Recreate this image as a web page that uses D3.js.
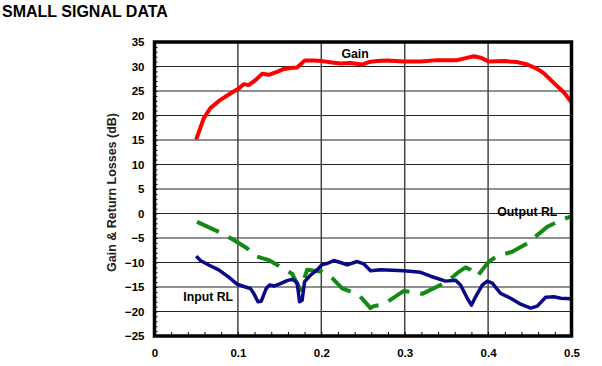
<!DOCTYPE html>
<html><head><meta charset="utf-8">
<script src="https://cdn.jsdelivr.net/npm/d3@7/dist/d3.min.js"></script>
<style>
html,body{margin:0;padding:0;background:#fff;}
svg{display:block;font-family:"Liberation Sans",Arial,sans-serif;}
</style></head>
<body>
<svg id="c" width="602" height="366"></svg>
<script>
const title = "SMALL SIGNAL DATA";
const yTitle = "Gain & Return Losses (dB)";
const xTicks = [0, 0.1, 0.2, 0.3, 0.4, 0.5];
const xTickLabels = ["0", "0.1", "0.2", "0.3", "0.4", "0.5"];
const yTicks = [35, 30, 25, 20, 15, 10, 5, 0, -5, -10, -15, -20, -25];
const seriesLabels = ["Gain", "Input RL", "Output RL"];

const gainF = [0.050,0.059,0.067,0.079,0.091,0.101,0.107,0.113,0.121,0.129,0.137,0.147,0.155,0.163,0.171,0.180,0.191,0.201,0.213,0.223,0.235,0.249,0.257,0.267,0.279,0.299,0.319,0.339,0.363,0.373,0.383,0.391,0.401,0.419,0.435,0.447,0.459,0.467,0.479,0.491,0.500];
const gainV = [15.1,19.4,21.5,23.2,24.5,25.5,26.4,26.2,27.2,28.5,28.3,28.9,29.5,29.7,29.8,31.2,31.2,31.1,30.8,30.6,30.7,30.4,30.9,31.1,31.2,31.0,31.0,31.3,31.3,31.7,32.1,31.8,31.0,31.1,30.9,30.4,29.5,28.6,26.6,24.7,22.7];

const inF = [0.050,0.055,0.065,0.077,0.089,0.099,0.107,0.115,0.119,0.124,0.128,0.134,0.138,0.143,0.151,0.159,0.166,0.171,0.174,0.177,0.180,0.187,0.195,0.201,0.207,0.215,0.223,0.231,0.243,0.251,0.259,0.271,0.299,0.319,0.331,0.349,0.361,0.367,0.375,0.380,0.385,0.393,0.399,0.405,0.415,0.427,0.439,0.451,0.459,0.469,0.479,0.487,0.500];
const inV = [-8.7,-9.6,-10.5,-11.5,-13.0,-14.4,-14.9,-15.3,-16.3,-18.0,-17.9,-15.3,-14.6,-14.8,-14.3,-13.7,-13.4,-14.2,-18.0,-17.7,-13.9,-12.6,-11.5,-10.4,-10.2,-9.6,-10.0,-10.5,-9.8,-10.3,-11.7,-11.5,-11.7,-12.0,-12.8,-13.8,-13.6,-14.6,-17.3,-18.7,-17.0,-14.6,-13.8,-14.2,-16.3,-17.3,-18.5,-19.3,-18.9,-17.1,-17.0,-17.3,-17.4];

const outF = [0.051,0.079,0.097,0.111,0.121,0.137,0.165,0.175,0.183,0.201,0.213,0.225,0.245,0.259,0.263,0.275,0.299,0.321,0.351,0.365,0.373,0.379,0.387,0.401,0.411,0.429,0.447,0.471,0.489,0.500];
const outV = [-1.7,-3.9,-5.6,-7.1,-8.7,-9.5,-12.3,-15.6,-11.5,-11.9,-13.2,-15.3,-16.6,-19.3,-18.9,-18.5,-15.8,-16.4,-13.9,-11.9,-11.0,-11.5,-12.8,-9.8,-8.7,-7.8,-6.1,-2.7,-1.2,-0.6];

const svg = d3.select("#c");
const L = 154.5, R = 571.5, T = 42, B = 336;
const x = d3.scaleLinear().domain([0, 0.5]).range([L, R]);
const y = d3.scaleLinear().domain([-25, 35]).range([B, T]);

svg.append("text").attr("x", 2).attr("y", 17).attr("font-size", 16).attr("font-weight", "bold").text(title);

// grid
const g = svg.append("g");
g.selectAll(".hg").data(yTicks.filter(d => d > -25 && d < 35)).join("line")
  .attr("x1", L).attr("x2", R).attr("y1", d => y(d)).attr("y2", d => y(d))
  .attr("stroke", "#222").attr("stroke-width", 1.2);
g.selectAll(".vg").data(xTicks.filter(d => d > 0 && d < 0.5)).join("line")
  .attr("y1", T).attr("y2", B).attr("x1", d => x(d)).attr("x2", d => x(d))
  .attr("stroke", "#444").attr("stroke-width", 1.5);

// minor ticks (inside)
const yAxisMinor = d3.axisRight(y).tickValues(d3.range(-25, 36, 1)).tickSize(3).tickFormat("");
svg.append("g").attr("transform", `translate(${L},0)`).call(yAxisMinor)
  .call(s => s.select(".domain").remove()).selectAll("line").attr("stroke", "#000").attr("stroke-width", 1);
const xAxisMinor = d3.axisTop(x).tickValues(d3.range(0, 0.501, 0.02)).tickSize(4).tickFormat("");
svg.append("g").attr("transform", `translate(0,${B})`).call(xAxisMinor)
  .call(s => s.select(".domain").remove()).selectAll("line").attr("stroke", "#000").attr("stroke-width", 1);

// tick labels
const yAxis = d3.axisLeft(y).tickValues(yTicks).tickSize(0).tickPadding(10).tickFormat(d3.format("d"));
svg.append("g").attr("transform", `translate(${L},0)`).call(yAxis)
  .call(s => s.select(".domain").remove())
  .selectAll("text").attr("font-size", 11.5).attr("font-weight", "bold").attr("fill", "#000")
  .attr("font-family", "'Liberation Sans',Arial,sans-serif");
const xAxis = d3.axisBottom(x).tickValues(xTicks).tickSize(0).tickPadding(13).tickFormat((d, i) => xTickLabels[i]);
svg.append("g").attr("transform", `translate(0,${B})`).call(xAxis)
  .call(s => s.select(".domain").remove())
  .selectAll("text").attr("font-size", 11.5).attr("font-weight", "bold").attr("fill", "#000")
  .attr("font-family", "'Liberation Sans',Arial,sans-serif");

svg.append("text").attr("transform", "translate(116,192.5) rotate(-90)").attr("text-anchor", "middle")
  .attr("font-size", 12.5).attr("font-weight", "bold").attr("fill", "#222").text(yTitle);

// series
const line = d3.line().x(d => x(d[0])).y(d => y(d[1]));
svg.append("path").datum(d3.zip(outF, outV)).attr("d", line).attr("fill", "none")
  .attr("stroke", "#138a13").attr("stroke-width", 4).attr("stroke-dasharray", "24,11").attr("stroke-linejoin", "round");
svg.append("path").datum(d3.zip(inF, inV)).attr("d", line).attr("fill", "none")
  .attr("stroke", "#0a0a88").attr("stroke-width", 3.5).attr("stroke-linejoin", "round");
svg.append("path").datum(d3.zip(gainF, gainV)).attr("d", line).attr("fill", "none")
  .attr("stroke", "#ff0000").attr("stroke-width", 4).attr("stroke-linejoin", "round");

// frame
svg.append("rect").attr("x", L).attr("y", T).attr("width", R - L).attr("height", B - T)
  .attr("fill", "none").attr("stroke", "#000").attr("stroke-width", 3.5);

// series labels (anchored in data space)
const labPos = [[0.2242, 31.7], [0.0345, -17.76], [0.411, -0.5]];
svg.selectAll("text.lab").data(seriesLabels).join("text").attr("class", "lab")
  .attr("x", (d, i) => x(labPos[i][0])).attr("y", (d, i) => y(labPos[i][1]))
  .attr("font-size", 12.3).attr("font-weight", "bold").attr("fill", "#000").text(d => d);
</script>
</body></html>
